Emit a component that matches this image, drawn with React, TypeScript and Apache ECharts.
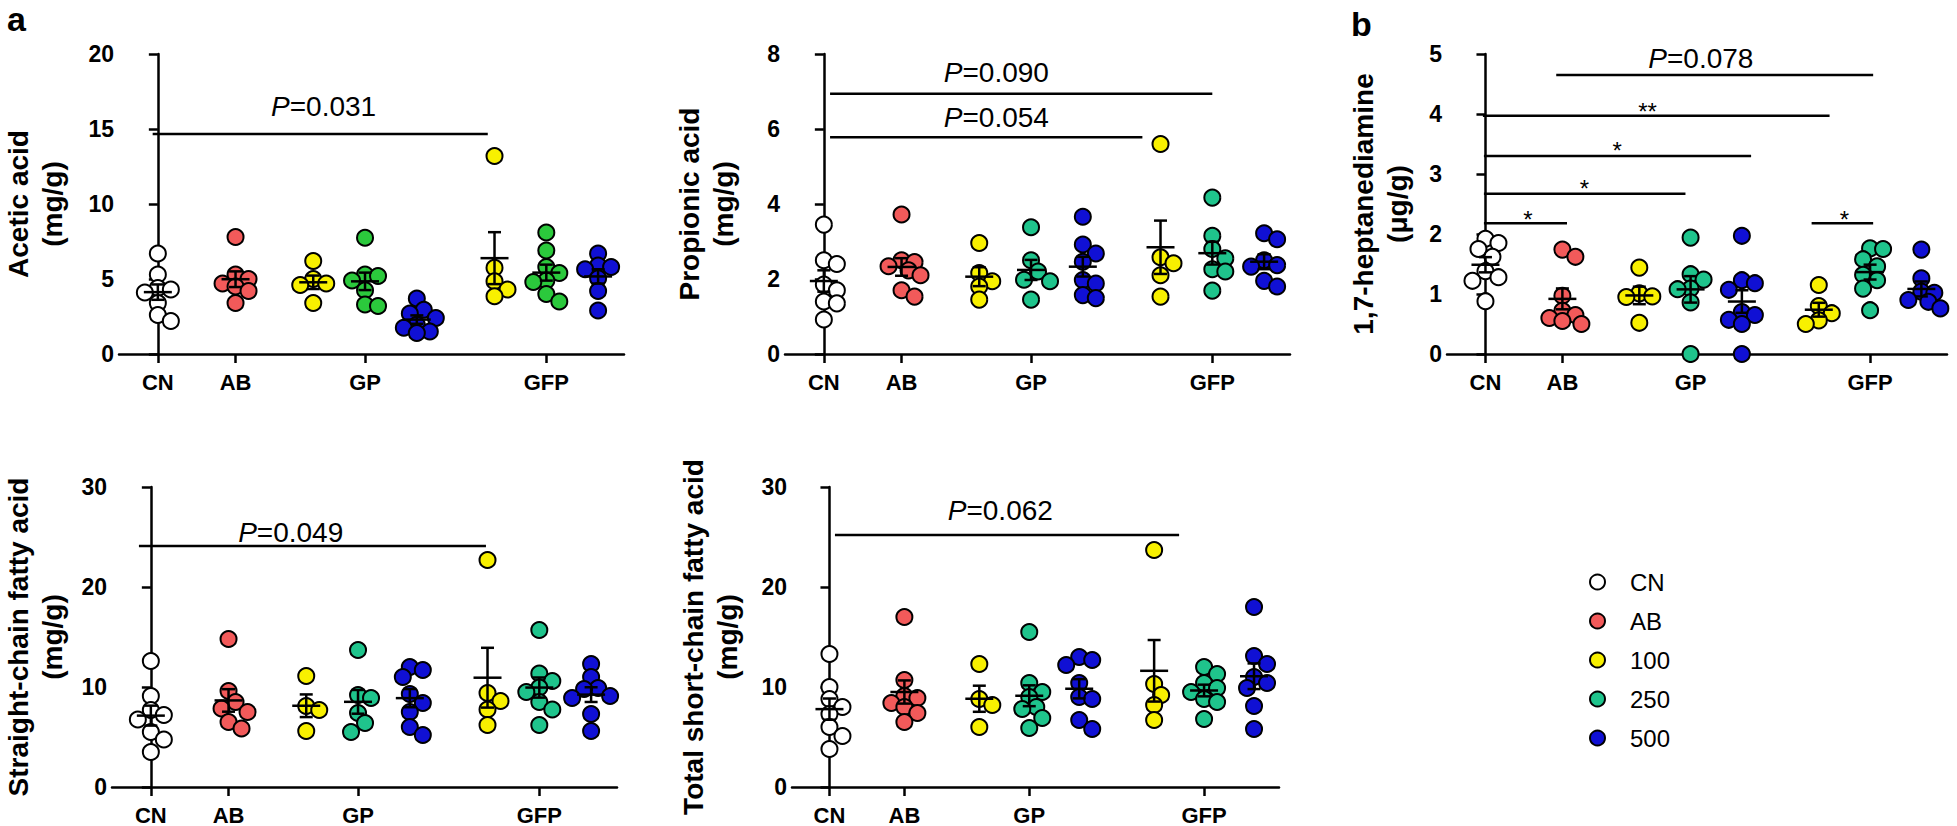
import React, { useEffect, useRef } from "react";
import * as echarts from "echarts";

// ---------------- data ----------------
const groupNames = ["CN", "AB", "100", "250", "500", "100", "250", "500"];
const legendNames = ["CN", "AB", "100", "250", "500"];
const xTickLabels = ["CN", "AB", "GP", "GFP"];

// Acetic acid (mg/g)
const aceticCN = [6.7, 5.3, 4.4, 4.3, 4.1, 3.4, 2.6, 2.2];
const aceticAB = [7.8, 5.3, 5.0, 4.7, 4.5, 4.2, 3.4];
const aceticGP100 = [6.2, 5.0, 4.7, 4.6, 3.4];
const aceticGP250 = [7.75, 5.3, 5.2, 4.9, 4.25, 3.3, 3.2];
const aceticGP500 = [3.7, 2.95, 2.7, 2.4, 1.95, 1.75, 1.5, 1.4];
const aceticGFP100 = [13.2, 5.75, 4.85, 4.3, 3.85];
const aceticGFP250 = [8.1, 6.9, 5.8, 5.4, 4.9, 4.8, 4.0, 3.5];
const aceticGFP500 = [6.7, 5.9, 5.8, 5.65, 5.05, 4.2, 2.9];

// Propionic acid (mg/g)
const propCN = [3.45, 2.5, 2.4, 1.85, 1.7, 1.4, 1.35, 0.92];
const propAB = [3.72, 2.5, 2.45, 2.34, 2.23, 2.1, 1.7, 1.53];
const propGP100 = [2.96, 2.16, 1.94, 1.8, 1.45];
const propGP250 = [3.38, 2.5, 2.2, 1.98, 1.94, 1.45];
const propGP500 = [3.66, 2.92, 2.68, 2.46, 1.97, 1.88, 1.57, 1.49];
const propGFP100 = [5.6, 2.58, 2.42, 2.1, 1.53];
const propGFP250 = [4.17, 3.15, 2.8, 2.55, 2.26, 2.2, 1.69];
const propGFP500 = [3.22, 3.06, 2.5, 2.37, 2.33, 1.95, 1.8];

// 1,7-heptanediamine (µg/g)
const heptCN = [1.92, 1.85, 1.75, 1.62, 1.38, 1.28, 1.22, 0.88];
const heptAB = [1.74, 1.62, 0.97, 0.72, 0.65, 0.6, 0.55, 0.5];
const heptGP100 = [1.44, 1.01, 0.96, 0.95, 0.52];
const heptGP250 = [1.94, 1.33, 1.24, 1.09, 1.08, 0.86, 0];
const heptGP500 = [1.97, 1.23, 1.18, 1.07, 0.7, 0.65, 0.57, 0.5, 0];
const heptGFP100 = [1.15, 0.8, 0.68, 0.56, 0.5];
const heptGFP250 = [1.76, 1.75, 1.58, 1.46, 1.32, 1.23, 1.09, 0.73];
const heptGFP500 = [1.74, 1.26, 1.04, 1.02, 0.9, 0.87, 0.76];

// Straight-chain fatty acid (mg/g)
const straightCN = [12.6, 9.1, 7.7, 7.2, 6.75, 5.5, 4.75, 3.5];
const straightAB = [14.8, 9.6, 8.5, 7.85, 7.5, 6.5, 5.85];
const straightGP100 = [11.1, 8.1, 7.7, 5.6];
const straightGP250 = [13.7, 9.2, 8.9, 7.4, 6.4, 5.5];
const straightGP500 = [12.0, 11.7, 11.0, 9.3, 8.4, 7.5, 6.0, 5.2];
const straightGFP100 = [22.7, 9.4, 8.6, 7.75, 6.2];
const straightGFP250 = [15.7, 11.35, 10.6, 9.95, 9.5, 8.5, 7.75, 6.2];
const straightGFP500 = [12.3, 11.0, 9.9, 9.8, 9.1, 8.9, 7.3, 5.6];

// Total short-chain fatty acid (mg/g)
const totalCN = [13.3, 10.0, 8.8, 8.0, 7.3, 6.0, 5.1, 3.8];
const totalAB = [17.0, 10.7, 9.1, 8.9, 8.4, 8.0, 7.4, 6.5];
const totalGP100 = [12.3, 8.8, 8.2, 6.0];
const totalGP250 = [15.5, 10.4, 9.5, 9.0, 8.0, 7.8, 6.9, 5.9];
const totalGP500 = [13.0, 12.7, 12.2, 10.4, 9.0, 8.8, 6.7, 5.8];
const totalGFP100 = [23.7, 10.3, 9.2, 8.2, 6.7];
const totalGFP250 = [12.0, 11.3, 10.4, 9.9, 9.5, 8.8, 8.5, 6.8];
const totalGFP500 = [18.0, 13.1, 12.3, 11.0, 10.4, 9.9, 8.1, 5.8];

// significance annotations: [x start, x end, y, label, label x, label y]
const aceticSig = [[-0.1, 6.37, 14.67, "P=0.031", 3.2, 16.5]];
const propSig = [
  [0.12, 7.5, 6.94, "P=0.090", 3.33, 7.52],
  [0.12, 6.15, 5.78, "P=0.054", 3.33, 6.32],
];
const heptSig = [
  [1.38, 7.56, 4.65, "P=0.078", 4.2, 4.93],
  [-0.05, 6.71, 3.97, "**", 3.16, 4.05],
  [-0.03, 5.18, 3.3, "*", 2.57, 3.395],
  [-0.03, 3.9, 2.67, "*", 1.93, 2.765],
  [-0.03, 1.59, 2.18, "*", 0.83, 2.24],
  [6.36, 7.56, 2.18, "*", 7.0, 2.24],
];
const straightSig = [[-0.23, 6.47, 24.1, "P=0.049", 2.7, 25.5]];
const totalSig = [[0.11, 7.0, 25.2, "P=0.062", 3.42, 27.7]];

// ---------------- layout / style ----------------
const FONT = "'Liberation Sans', Arial, Helvetica, sans-serif";
const groupX = [0, 1.5, 3, 4, 5, 6.5, 7.5, 8.5];
const xTickPos = [0, 1.5, 4, 7.5];
const X_MIN = -0.75;
const X_MAX = 9;
const TEAL = "#1fc48c";
const colorMap: Record<string, string> = {
  CN: "#ffffff",
  AB: "#f25a5a",
  "100": "#f8f000",
  "250": TEAL,
  "500": "#1010d4",
};

const panels = [
  {
    name: "Acetic acid\n(mg/g)",
    groups: [aceticCN, aceticAB, aceticGP100, aceticGP250, aceticGP500, aceticGFP100, aceticGFP250, aceticGFP500],
    yMax: 20, yInterval: 5, sig: aceticSig, green: "#2bc93c", nameX: 35,
    grid: { left: 119, top: 54, width: 505, height: 300 },
  },
  {
    name: "Propionic acid\n(mg/g)",
    groups: [propCN, propAB, propGP100, propGP250, propGP500, propGFP100, propGFP250, propGFP500],
    yMax: 8, yInterval: 2, sig: propSig, green: TEAL, nameX: 706,
    grid: { left: 785, top: 54, width: 505, height: 300 },
  },
  {
    name: "1,7-heptanediamine\n(μg/g)",
    groups: [heptCN, heptAB, heptGP100, heptGP250, heptGP500, heptGFP100, heptGFP250, heptGFP500],
    yMax: 5, yInterval: 1, sig: heptSig, green: TEAL, nameX: 1380,
    grid: { left: 1447, top: 54, width: 500, height: 300 },
  },
  {
    name: "Straight-chain fatty acid\n(mg/g)",
    groups: [straightCN, straightAB, straightGP100, straightGP250, straightGP500, straightGFP100, straightGFP250, straightGFP500],
    yMax: 30, yInterval: 10, sig: straightSig, green: TEAL, nameX: 35,
    grid: { left: 112, top: 487, width: 505, height: 300 },
  },
  {
    name: "Total short-chain fatty acid\n(mg/g)",
    groups: [totalCN, totalAB, totalGP100, totalGP250, totalGP500, totalGFP100, totalGFP250, totalGFP500],
    yMax: 30, yInterval: 10, sig: totalSig, green: TEAL, nameX: 710,
    grid: { left: 792, top: 487, width: 487, height: 300 },
  },
];

// simple beeswarm in pixel space -> offsets in axis units
function swarm(values: number[], pxPerVal: number, pxPerUnit: number): number[] {
  const order = values.map((v, i) => i).sort((a, b) => values[b] - values[a]);
  const placed: { x: number; y: number }[] = [];
  const offs = new Array(values.length).fill(0);
  const cands = [0, 7, -7, 13, -13, 19, -19];
  const minD = 12;
  for (const i of order) {
    const y = values[i] * pxPerVal;
    let best = cands[0];
    let bestScore = -1;
    for (const c of cands) {
      let md = Infinity;
      for (const p of placed) md = Math.min(md, Math.hypot(c - p.x, y - p.y));
      if (md >= minD) { best = c; bestScore = Infinity; break; }
      if (md > bestScore) { bestScore = md; best = c; }
    }
    placed.push({ x: best, y });
    offs[i] = best / pxPerUnit;
  }
  return offs;
}

function mean(a: number[]) { return a.reduce((s, v) => s + v, 0) / a.length; }
function sem(a: number[]) {
  const m = mean(a);
  const sd = Math.sqrt(a.reduce((s, v) => s + (v - m) * (v - m), 0) / (a.length - 1));
  return sd / Math.sqrt(a.length);
}

function buildOption() {
  const grid: any[] = [];
  const xAxis: any[] = [];
  const yAxis: any[] = [];
  const series: any[] = [];
  const graphic: any[] = [];
  const axisLineStyle = { color: "#000", width: 2.5 };

  panels.forEach((p, pi) => {
    grid.push({ ...p.grid, containLabel: false });
    const pxPerUnit = p.grid.width / (X_MAX - X_MIN);
    const pxPerVal = p.grid.height / p.yMax;
    xAxis.push({
      gridIndex: pi, type: "value", min: X_MIN, max: X_MAX,
      axisLine: { show: true, onZero: false, lineStyle: axisLineStyle },
      splitLine: { show: false },
      axisTick: { show: true, customValues: xTickPos, length: 9, lineStyle: axisLineStyle },
      axisLabel: {
        customValues: xTickPos, margin: 17, color: "#000", fontSize: 22, fontWeight: "bold", fontFamily: FONT,
        formatter: (v: number) => { const k = xTickPos.findIndex((t) => Math.abs(t - v) < 1e-6); return k >= 0 ? xTickLabels[k] : ""; },
      },
    });
    yAxis.push({
      gridIndex: pi, type: "value", min: 0, max: p.yMax, interval: p.yInterval,
      axisLine: { show: true, lineStyle: axisLineStyle },
      splitLine: { show: false },
      axisTick: { show: true, length: 9, lineStyle: axisLineStyle },
      axisLabel: { margin: 5, color: "#000", fontSize: 23, fontWeight: "bold", fontFamily: FONT },
    });

    // y-axis title (rotated, two lines)
    graphic.push({
      type: "text", x: p.nameX, y: p.grid.top + p.grid.height / 2, rotation: Math.PI / 2,
      style: {
        text: p.name, fill: "#000", fontSize: 28, fontWeight: "bold", fontFamily: FONT,
        lineHeight: 34, align: "center", verticalAlign: "middle",
      },
    });

    // scatter points, one series per colour
    const byColor: Record<string, number[][]> = {};
    p.groups.forEach((vals, gi) => {
      const offs = swarm(vals, pxPerVal, pxPerUnit);
      const key = groupNames[gi];
      if (!byColor[key]) byColor[key] = [];
      vals.forEach((v, k) => byColor[key].push([groupX[gi] + offs[k], v]));
    });
    legendNames.forEach((nm) => {
      const color = nm === "250" ? p.green : colorMap[nm];
      series.push({
        type: "scatter", name: nm, xAxisIndex: pi, yAxisIndex: pi,
        data: byColor[nm] || [], symbol: "circle", symbolSize: 16, clip: false, silent: true, z: 3,
        itemStyle: { color, borderColor: "#000", borderWidth: 2, opacity: 1 },
      });
    });

    // mean ± SEM
    series.push({
      type: "custom", name: "meanSEM" + pi, xAxisIndex: pi, yAxisIndex: pi, z: 5, silent: true, clip: false,
      data: p.groups.map((vals, gi) => [groupX[gi], mean(vals), sem(vals)]),
      encode: { x: 0, y: 1 },
      renderItem: (params: any, api: any) => {
        const x = api.value(0), m = api.value(1), s = api.value(2);
        const pm = api.coord([x, m]);
        const pt = api.coord([x, m + s]);
        const pb = api.coord([x, Math.max(0, m - s)]);
        const st = { stroke: "#000", lineWidth: 2.5 };
        return {
          type: "group",
          children: [
            { type: "line", shape: { x1: pm[0] - 14, y1: pm[1], x2: pm[0] + 14, y2: pm[1] }, style: st },
            { type: "line", shape: { x1: pm[0], y1: pb[1], x2: pm[0], y2: pt[1] }, style: st },
            { type: "line", shape: { x1: pm[0] - 6.5, y1: pt[1], x2: pm[0] + 6.5, y2: pt[1] }, style: st },
            { type: "line", shape: { x1: pm[0] - 6.5, y1: pb[1], x2: pm[0] + 6.5, y2: pb[1] }, style: st },
          ],
        };
      },
    });

    // significance lines
    series.push({
      type: "custom", name: "sig" + pi, xAxisIndex: pi, yAxisIndex: pi, z: 6, silent: true, clip: false,
      data: p.sig.map((s) => [s[0], s[2], s[1], s[4], s[5]]),
      encode: { x: 0, y: 1 },
      renderItem: (params: any, api: any) => {
        const s = p.sig[params.dataIndex];
        const a = api.coord([s[0] as number, s[2] as number]);
        const b = api.coord([s[1] as number, s[2] as number]);
        const t = api.coord([s[4] as number, s[5] as number]);
        const label = s[3] as string;
        const isP = label.startsWith("P");
        return {
          type: "group",
          children: [
            { type: "line", shape: { x1: a[0], y1: a[1], x2: b[0], y2: b[1] }, style: { stroke: "#000", lineWidth: 2.5 } },
            {
              type: "text", x: t[0], y: t[1],
              style: isP
                ? {
                    text: "{i|P}" + label.slice(1), fill: "#000", fontSize: 28, fontFamily: FONT,
                    align: "center", verticalAlign: "middle",
                    rich: { i: { fontStyle: "italic", fontSize: 28, fontFamily: FONT, fill: "#000" } },
                  }
                : { text: label, fill: "#000", fontSize: 24, fontFamily: FONT, align: "center", verticalAlign: "middle" },
            },
          ],
        };
      },
    });
  });

  graphic.push(
    { type: "text", x: 7, y: 19, style: { text: "a", fontSize: 34, fontWeight: "bold", fontFamily: FONT, fill: "#000", align: "left", verticalAlign: "middle" } },
    { type: "text", x: 1351, y: 24, style: { text: "b", fontSize: 34, fontWeight: "bold", fontFamily: FONT, fill: "#000", align: "left", verticalAlign: "middle" } }
  );

  return {
    animation: false,
    backgroundColor: "#ffffff",
    grid, xAxis, yAxis, series, graphic,
    legend: {
      orient: "vertical", left: 1584, top: 565, itemWidth: 15, itemHeight: 15, itemGap: 15,
      icon: "circle", selectedMode: false,
      data: legendNames.map((n) => ({ name: n, itemStyle: { color: colorMap[n], borderColor: "#000", borderWidth: 2 } })),
      textStyle: { color: "#000", fontSize: 24, fontFamily: FONT, padding: [0, 0, 0, 20] },
    },
  };
}

export default function App() {
  const ref = useRef<HTMLDivElement>(null);
  useEffect(() => {
    if (!ref.current) return;
    const chart = echarts.init(ref.current, undefined, { renderer: "svg" });
    chart.setOption(buildOption() as any);
    return () => chart.dispose();
  }, []);
  return (
    <div
      ref={ref}
      style={{ position: "absolute", left: 0, top: 0, width: 1957, height: 826, background: "#fff" }}
    />
  );
}
